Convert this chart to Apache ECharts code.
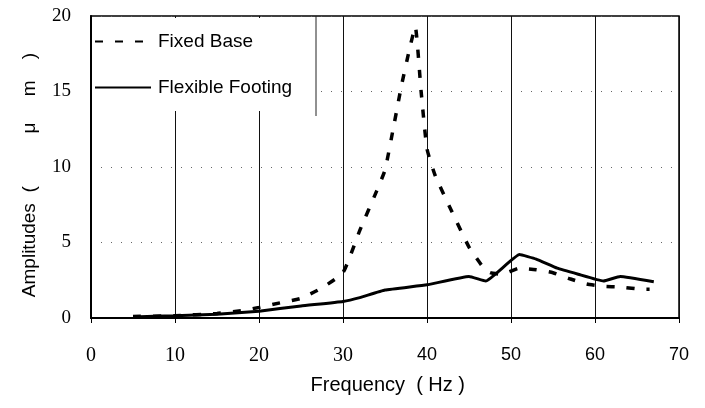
<!DOCTYPE html>
<html>
<head>
<meta charset="utf-8">
<script src="https://cdn.jsdelivr.net/npm/echarts@6/dist/echarts.min.js"></script>
<style>
  html, body { margin: 0; padding: 0; background: #fff; }
  #chart { width: 705px; height: 408px; }
</style>
</head>
<body>
<div id="chart"></div>
<script>
  // values
  const fixedFreq = [5, 10, 15, 18, 20, 22.5, 25, 27.5, 30, 32, 34, 35, 36, 37, 38, 38.6, 39.3, 40, 41, 43, 45, 46.5, 47.5, 49, 51, 53, 55, 57, 59, 61, 63, 65.7, 66.5];
  const fixedAmp  = [0.1, 0.15, 0.3, 0.5, 0.7, 1.0, 1.3, 2.0, 3.0, 5.8, 8.4, 9.8, 12.6, 15.5, 18.0, 19.3, 15.0, 11.2, 9.4, 7.0, 4.7, 3.5, 3.0, 2.9, 3.3, 3.2, 3.0, 2.6, 2.25, 2.1, 2.05, 1.9, 1.9];
  const flexFreq = [5, 10, 15, 20, 25, 30, 32, 35, 40, 45, 47, 51, 53, 55.5, 58, 61, 63, 67];
  const flexAmp  = [0.07, 0.15, 0.25, 0.45, 0.8, 1.1, 1.35, 1.85, 2.2, 2.75, 2.45, 4.2, 3.9, 3.3, 2.9, 2.45, 2.75, 2.4];
  const seriesNames = ['Fixed Base', 'Flexible Footing'];

  function pairs(xs, ys){
    return xs.map((x, i)=>[x, ys[i]]);
  }

  const serif = '"Liberation Serif", "Times New Roman", serif';
  const sans = '"Liberation Sans", Arial, sans-serif';

  const chart = echarts.init(document.getElementById('chart'), null, { renderer: 'canvas' });
  chart.setOption({
    animation: false,
    backgroundColor: '#fff',
    color: ['#000', '#000'],
    grid: {
      left: 91, right: 26, top: 16, bottom: 90,
      show: true, borderColor: '#000', borderWidth: 1.5, backgroundColor: 'transparent'
    },
    legend: {
      orient: 'vertical',
      left: 93, top: 18,
      padding: [14, 24, 14, 1],
      itemGap: 27,
      itemWidth: 56,
      itemHeight: 14,
      backgroundColor: '#fff',
      itemStyle: { opacity: 0 },
      textStyle: { fontFamily: sans, fontSize: 19, color: '#000', padding: [0, 0, 0, 2] },
      data: seriesNames
    },
    graphic: [{
      type: 'line', z: 100,
      shape: { x1: 316, y1: 16, x2: 316, y2: 116 },
      style: { stroke: '#222', lineWidth: 1 }
    }],
    xAxis: {
      type: 'value', min: 0, max: 70, interval: 10,
      name: ' Frequency  ( Hz )',
      nameLocation: 'middle', nameGap: 57,
      nameTextStyle: { fontFamily: sans, fontSize: 20, color: '#000' },
      axisLine: { lineStyle: { color: '#000', width: 2 } },
      axisTick: { show: true, inside: false, length: 5, lineStyle: { color: '#000' } },
      axisLabel: {
        margin: 28,
        formatter: (v)=> (v < 40 ? '{s|' + v + '}' : '{a|' + v + '}'),
        rich: {
          s: { fontFamily: serif, fontSize: 20, color: '#000' },
          a: { fontFamily: sans, fontSize: 18, color: '#000' }
        }
      },
      splitLine: { show: true, lineStyle: { color: '#111', width: 1, type: 'solid' } }
    },
    yAxis: {
      type: 'value', min: 0, max: 20, interval: 5,
      name: 'Amplitudes  (          μ     m    )',
      nameLocation: 'middle', nameRotate: 90, nameGap: 52,
      nameTextStyle: { fontFamily: sans, fontSize: 19, color: '#000', padding: [0, 16, 0, 0] },
      axisLine: { show: true, lineStyle: { color: '#000', width: 2 } },
      axisTick: { show: false },
      axisLabel: { margin: 20, fontFamily: serif, fontSize: 19, color: '#000' },
      splitLine: { show: true, lineStyle: { color: '#666', width: 1, type: [1, 9] } }
    },
    series: [
      {
        name: seriesNames[0], type: 'line', symbol: 'none', smooth: 0.15,
        data: pairs(fixedFreq, fixedAmp),
        itemStyle: { color: '#000' },
        lineStyle: { color: '#000', width: 3.5, type: [8, 12] },
        z: 3
      },
      {
        name: seriesNames[1], type: 'line', symbol: 'none', smooth: 0.1,
        data: pairs(flexFreq, flexAmp),
        itemStyle: { color: '#000' },
        lineStyle: { color: '#000', width: 3, type: 'solid' },
        z: 4
      }
    ]
  });
</script>
</body>
</html>
